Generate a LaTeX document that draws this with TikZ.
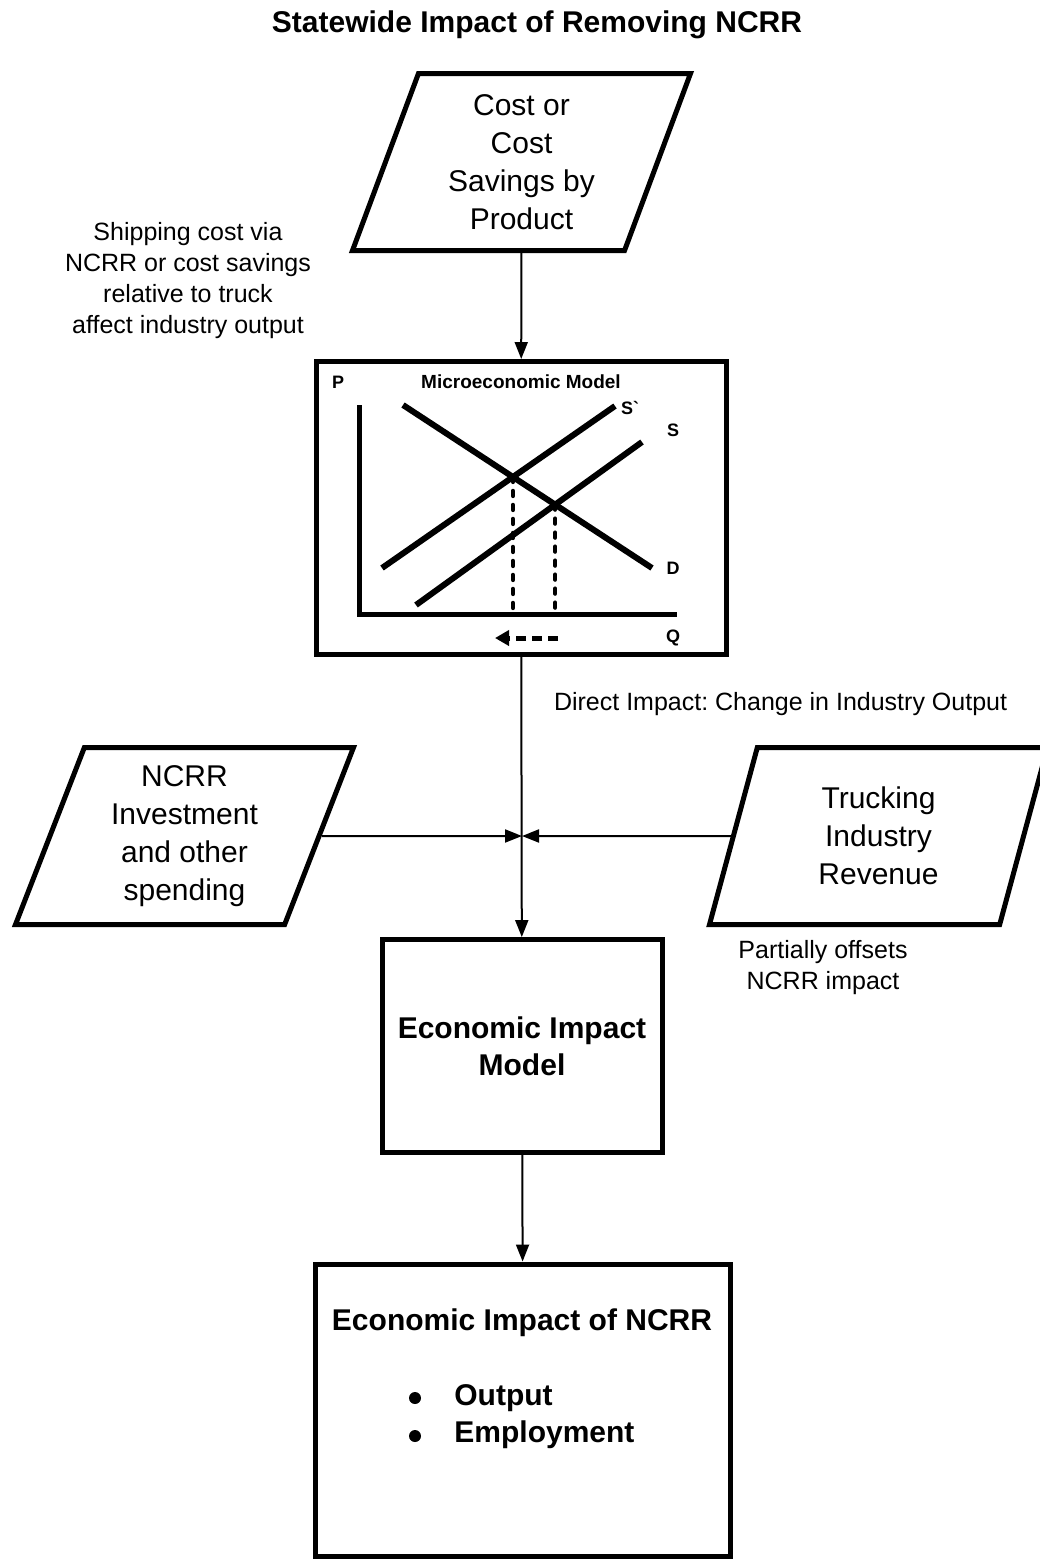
\documentclass[tikz,border=0pt]{standalone}
\usepackage{fontspec}
\setmainfont{Liberation Sans}
\usetikzlibrary{
	arrows.meta,
	shapes.geometric
}

\begin{document}
\frenchspacing
\begin{tikzpicture}[x=0.5pt,y=-0.5pt,
    flow/.style={-{Triangle[length=8.5pt,width=6.5pt]},line width=1pt},
    para/.style={trapezium,trapezium left angle=64,trapezium right angle=116,
        trapezium stretches body,draw,line width=2.5pt,inner sep=0pt,align=center,
        minimum width=169pt,minimum height=88.5pt,font=\fontsize{15}{19}\selectfont},
    box/.style={draw,line width=2.5pt,inner sep=0pt,align=center},
    note/.style={align=center,font=\fontsize{12.5}{15.5}\selectfont},
    heading/.style={align=center,font=\bfseries\fontsize{15}{18.5}\selectfont},
    curve/.style={line width=3pt},
    drop/.style={line width=2.2pt,line cap=round,dash pattern=on 2.5pt off 4.5pt},
    tag/.style={font=\bfseries\fontsize{9}{10}\selectfont,inner sep=0pt}]
    \useasboundingbox (0,0) rectangle (1040,1560);
    % Title
    \node[heading] (title) at (537,25) {Statewide Impact of Removing NCRR};
    % Inputs
    \node[para] (cost) at (521.5,162) {Cost or\\Cost\\Savings by\\Product};
    \node[para] (invest) at (184.5,836) {NCRR\\Investment\\and other\\spending};
    \node[para] (truck) at (878.5,836) {Trucking\\Industry\\Revenue};
    \node[note] (shipping) at (188,281) {Shipping cost via\\NCRR or cost savings\\relative to truck\\affect industry output};
    % Microeconomic model
    \node[box,minimum width=205pt,minimum height=146.5pt] (micro) at (521,508) {};
    \node[tag] (p) at (338,382) {P};
    \node[tag,font=\bfseries\fontsize{9.5}{11}\selectfont] (microtitle) at (521,382) {Microeconomic Model};
    \coordinate (d1) at (403,405);  \coordinate (d2) at (652,568);
    \coordinate (s1) at (382,568);  \coordinate (s2) at (615,406);
    \coordinate (t1) at (416,605);  \coordinate (t2) at (642,442);
    \coordinate (qend) at (677,614);
    \draw[line width=2.5pt] (359,405) -- (359,614) -- (qend);
    \draw[curve] (d1) -- (d2);
    \draw[curve] (s1) -- (s2);
    \draw[curve] (t1) -- (t2);
    \coordinate (eqnew) at (intersection of d1--d2 and s1--s2);
    \coordinate (eqold) at (intersection of d1--d2 and t1--t2);
    \draw[drop] (eqnew) -- (eqnew |- qend);
    \draw[drop] (eqold) -- (eqold |- qend);
    \draw[line width=2.5pt,dash pattern=on 5pt off 3pt,-{Triangle[length=7pt,width=7.5pt]}] (558,638) -- (495,638);
    \node[tag] (sprime) at (630,408) {S\textasciigrave};
    \node[tag] (s) at (673,430) {S};
    \node[tag] (d) at (673,568) {D};
    \node[tag] (q) at (673,638) {Q};
    \node[note,anchor=west] (direct) at (547,704) {Direct Impact: Change in Industry Output};
    \coordinate (meet) at (522,836);
    % Impact model
    \node[box,heading,minimum width=140pt,minimum height=106.5pt] (model) at (522,1046) {Economic Impact\\Model};
    \node[note] (offsets) at (823,968) {Partially offsets\\NCRR impact};
    % Results
    \node[box,minimum width=207.5pt,minimum height=146pt] (impact) at (523,1410) {};
    \node[heading] (impacthead) at (522,1323) {Economic Impact of NCRR};
    \node[heading,align=left,anchor=west,inner sep=0pt] (impactlist) at (454,1417) {Output\\Employment};
    % Bullets
    \fill (415,1398) circle (3pt);
    \fill (415,1436) circle (3pt);
    % Connectors
    \draw[flow] (cost) -- (micro);
    \draw[flow] (micro) -- (model);
    \draw[flow] (invest) -- (meet);
    \draw[flow] (truck) -- (meet);
    \draw[flow] (model) -- (impact);
\end{tikzpicture}
\end{document}
